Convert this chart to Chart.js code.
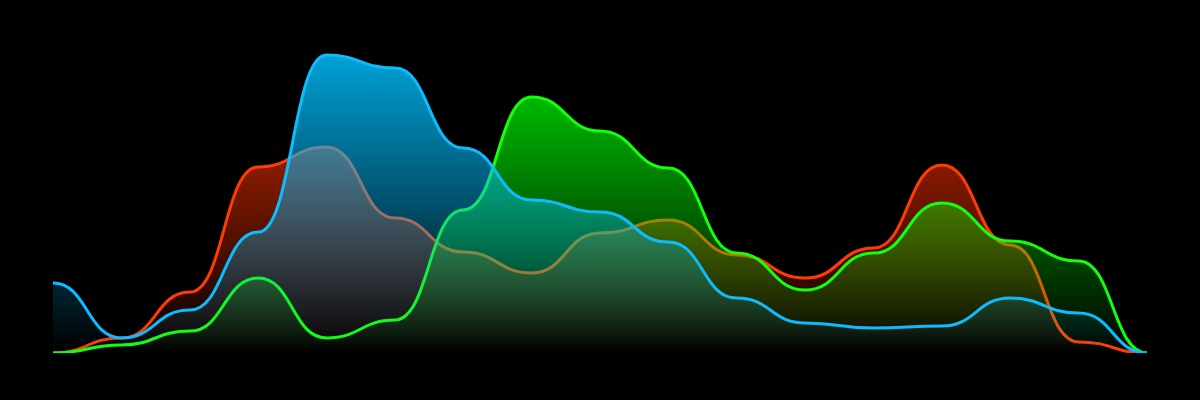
<!DOCTYPE html>
<html>
<head>
<meta charset="utf-8">
<script src="https://cdn.jsdelivr.net/npm/chart.js@4.4.1/dist/chart.umd.min.js"></script>
<style>
  html, body { margin: 0; padding: 0; background: #000; }
  #wrap { width: 1200px; height: 400px; position: relative; }
</style>
</head>
<body>
<div id="wrap"><canvas id="c"></canvas></div>
<script>
// ---- data ----
const categories = ['1','2','3','4','5','6','7','8','9','10','11','12','13','14','15','16','17'];
const redValues   = [0, 5, 20.3, 62, 68.7, 45, 33.7, 26.7, 40, 44.3, 32.7, 25, 35, 62.7, 36, 3.7, 0];
const blueValues  = [23.3, 5, 14.3, 40.3, 99.3, 95, 68.3, 51, 47, 37, 18.3, 10, 8.3, 9, 18.3, 13.3, 0];
const greenValues = [0, 2.7, 7.3, 25, 5, 11, 47.7, 85.3, 74, 61.7, 33.3, 21, 33.3, 50, 37.3, 30.7, 0];
const yMin = 0, yMax = 100;

function gradientFill(r, g, b) {
  return (ctx) => {
    const chart = ctx.chart;
    const a = chart.chartArea;
    if (!a) return 'rgba(0,0,0,0)';
    const grad = chart.ctx.createLinearGradient(0, a.top, 0, a.bottom);
    grad.addColorStop(0, `rgba(${r},${g},${b},0.85)`);
    grad.addColorStop(1, `rgba(${r},${g},${b},0)`);
    return grad;
  };
}

// horizontal-tangent (bump) curve between points
const bumpCurve = {
  id: 'bumpCurve',
  beforeDatasetsDraw(chart) {
    chart.getSortedVisibleDatasetMetas().forEach(meta => {
      const pts = meta.data;
      for (let i = 0; i < pts.length; i++) {
        const p = pts[i], prev = pts[i - 1], next = pts[i + 1];
        const dPrev = prev ? (p.x - prev.x) / 2 : 0;
        const dNext = next ? (next.x - p.x) / 2 : 0;
        p.cp1x = p.x - dPrev; p.cp1y = p.y;
        p.cp2x = p.x + dNext; p.cp2y = p.y;
      }
      if (meta.dataset) meta.dataset._pointsUpdated = true;
    });
  }
};

new Chart(document.getElementById('c'), {
  type: 'line',
  data: {
    labels: categories,
    datasets: [
      { label: 'Blue', data: blueValues, borderColor: '#0cbcff', backgroundColor: gradientFill(0, 191, 255), fill: 'origin', borderWidth: 3, pointRadius: 0, tension: 0.4 },
      { label: 'Green', data: greenValues, borderColor: '#14ff0a', backgroundColor: gradientFill(0, 255, 0), fill: 'origin', borderWidth: 3, pointRadius: 0, tension: 0.4 },
      { label: 'Red', data: redValues, borderColor: '#ff3c00', backgroundColor: gradientFill(255, 51, 0), fill: 'origin', borderWidth: 3, pointRadius: 0, tension: 0.4 }
    ]
  },
  options: {
    responsive: true,
    maintainAspectRatio: false,
    animation: false,
    layout: { padding: { left: 53, right: 53, top: 53, bottom: 47 } },
    scales: {
      x: { display: false, offset: false },
      y: { display: false, min: yMin, max: yMax }
    },
    plugins: { legend: { display: false }, tooltip: { enabled: false } }
  },
  plugins: [bumpCurve]
});
</script>
</body>
</html>
